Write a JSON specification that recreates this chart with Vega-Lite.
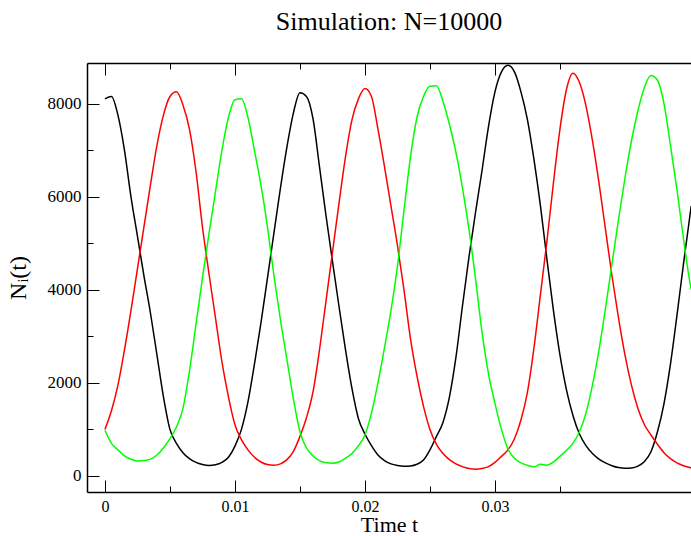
{
  "$schema": "https://vega.github.io/schema/vega-lite/v6.json",
  "width": 604,
  "height": 429,
  "autosize": "none",
  "padding": {"left": 87, "top": 63, "right": 0, "bottom": 44},
  "background": "white",
  "title": {"text": "Simulation: N=10000", "font": "Liberation Serif", "fontSize": 26, "fontWeight": "normal", "anchor": "middle", "baseline": "alphabetic", "offset": 7, "color": "black"},
  "config": {
    "view": {"stroke": null},
    "axis": {"labelFont": "Liberation Serif", "titleFont": "Liberation Serif", "labelColor": "black", "titleColor": "black", "labelFontSize": 17, "titleFontSize": 23, "titleFontWeight": "normal", "domainColor": "black", "tickColor": "black", "grid": false}
  },
  "data": {"values": [
    {"t": 0.0000, "black": 8100, "red": 1000, "green": 980},
    {"t": 0.0005, "black": 8150, "red": 1400, "green": 700},
    {"t": 0.0010, "black": 7750, "red": 1950, "green": 560},
    {"t": 0.0015, "black": 7000, "red": 2700, "green": 430},
    {"t": 0.0020, "black": 6000, "red": 3550, "green": 360},
    {"t": 0.0025, "black": 5150, "red": 4450, "green": 320},
    {"t": 0.0030, "black": 4300, "red": 5350, "green": 330},
    {"t": 0.0035, "black": 3500, "red": 6250, "green": 360},
    {"t": 0.0040, "black": 2600, "red": 7100, "green": 450},
    {"t": 0.0045, "black": 1700, "red": 7750, "green": 600},
    {"t": 0.0050, "black": 1000, "red": 8150, "green": 800},
    {"t": 0.0055, "black": 700, "red": 8250, "green": 1050},
    {"t": 0.0060, "black": 500, "red": 7970, "green": 1450},
    {"t": 0.0065, "black": 370, "red": 7450, "green": 2250},
    {"t": 0.0070, "black": 290, "red": 6550, "green": 3250},
    {"t": 0.0075, "black": 245, "red": 5350, "green": 4250},
    {"t": 0.0080, "black": 225, "red": 4350, "green": 5200},
    {"t": 0.0085, "black": 240, "red": 3400, "green": 6100},
    {"t": 0.0090, "black": 290, "red": 2450, "green": 7000},
    {"t": 0.0095, "black": 400, "red": 1700, "green": 7700},
    {"t": 0.0100, "black": 640, "red": 1100, "green": 8080},
    {"t": 0.0105, "black": 1000, "red": 780, "green": 8100},
    {"t": 0.0110, "black": 1590, "red": 560, "green": 7700},
    {"t": 0.0115, "black": 2400, "red": 400, "green": 6990},
    {"t": 0.0120, "black": 3290, "red": 300, "green": 6250},
    {"t": 0.0125, "black": 4250, "red": 245, "green": 5350},
    {"t": 0.0130, "black": 5220, "red": 230, "green": 4300},
    {"t": 0.0135, "black": 6185, "red": 260, "green": 3350},
    {"t": 0.0140, "black": 7070, "red": 350, "green": 2500},
    {"t": 0.0145, "black": 7800, "red": 530, "green": 1650},
    {"t": 0.0150, "black": 8230, "red": 850, "green": 950},
    {"t": 0.0155, "black": 8150, "red": 1250, "green": 600},
    {"t": 0.0160, "black": 7680, "red": 1800, "green": 430},
    {"t": 0.0165, "black": 6650, "red": 2700, "green": 330},
    {"t": 0.0170, "black": 5600, "red": 3750, "green": 285},
    {"t": 0.0175, "black": 4615, "red": 4800, "green": 275},
    {"t": 0.0180, "black": 3650, "red": 5850, "green": 300},
    {"t": 0.0185, "black": 2720, "red": 6850, "green": 380},
    {"t": 0.0190, "black": 1880, "red": 7650, "green": 480},
    {"t": 0.0195, "black": 1230, "red": 8100, "green": 650},
    {"t": 0.0200, "black": 900, "red": 8320, "green": 880},
    {"t": 0.0205, "black": 650, "red": 8150, "green": 1350},
    {"t": 0.0210, "black": 450, "red": 7450, "green": 2000},
    {"t": 0.0215, "black": 330, "red": 6650, "green": 2750},
    {"t": 0.0220, "black": 260, "red": 5800, "green": 3550},
    {"t": 0.0225, "black": 225, "red": 4950, "green": 4500},
    {"t": 0.0230, "black": 210, "red": 4000, "green": 5700},
    {"t": 0.0235, "black": 215, "red": 2950, "green": 6850},
    {"t": 0.0240, "black": 250, "red": 2150, "green": 7700},
    {"t": 0.0245, "black": 340, "red": 1500, "green": 8150},
    {"t": 0.0250, "black": 560, "red": 1000, "green": 8370},
    {"t": 0.0255, "black": 850, "red": 680, "green": 8380},
    {"t": 0.0260, "black": 1150, "red": 480, "green": 8050},
    {"t": 0.0265, "black": 1700, "red": 350, "green": 7550},
    {"t": 0.0270, "black": 2550, "red": 260, "green": 6950},
    {"t": 0.0275, "black": 3650, "red": 200, "green": 6190},
    {"t": 0.0280, "black": 4700, "red": 160, "green": 5300},
    {"t": 0.0285, "black": 5650, "red": 145, "green": 4250},
    {"t": 0.0290, "black": 6550, "red": 160, "green": 3100},
    {"t": 0.0295, "black": 7500, "red": 200, "green": 2200},
    {"t": 0.0300, "black": 8250, "red": 290, "green": 1560},
    {"t": 0.0305, "black": 8680, "red": 420, "green": 1000},
    {"t": 0.0310, "black": 8820, "red": 560, "green": 580},
    {"t": 0.0315, "black": 8680, "red": 800, "green": 380},
    {"t": 0.0320, "black": 8250, "red": 1200, "green": 280},
    {"t": 0.0325, "black": 7650, "red": 1800, "green": 230},
    {"t": 0.0330, "black": 6800, "red": 2750, "green": 195},
    {"t": 0.0335, "black": 5800, "red": 3900, "green": 250},
    {"t": 0.0340, "black": 4650, "red": 5050, "green": 230},
    {"t": 0.0345, "black": 3550, "red": 6300, "green": 300},
    {"t": 0.0350, "black": 2600, "red": 7450, "green": 420},
    {"t": 0.0355, "black": 1850, "red": 8300, "green": 550},
    {"t": 0.0360, "black": 1300, "red": 8650, "green": 700},
    {"t": 0.0365, "black": 900, "red": 8450, "green": 950},
    {"t": 0.0370, "black": 650, "red": 7950, "green": 1350},
    {"t": 0.0375, "black": 480, "red": 7200, "green": 1950},
    {"t": 0.0380, "black": 360, "red": 6300, "green": 2700},
    {"t": 0.0385, "black": 280, "red": 5300, "green": 3600},
    {"t": 0.0390, "black": 220, "red": 4300, "green": 4550},
    {"t": 0.0395, "black": 180, "red": 3400, "green": 5500},
    {"t": 0.0400, "black": 165, "red": 2600, "green": 6400},
    {"t": 0.0405, "black": 170, "red": 1950, "green": 7200},
    {"t": 0.0410, "black": 210, "red": 1450, "green": 7850},
    {"t": 0.0415, "black": 310, "red": 1100, "green": 8350},
    {"t": 0.0420, "black": 520, "red": 880, "green": 8600},
    {"t": 0.0425, "black": 950, "red": 680, "green": 8500},
    {"t": 0.0430, "black": 1550, "red": 500, "green": 8000},
    {"t": 0.0435, "black": 2400, "red": 370, "green": 7100},
    {"t": 0.0440, "black": 3450, "red": 280, "green": 6150},
    {"t": 0.0445, "black": 4550, "red": 220, "green": 5100},
    {"t": 0.0450, "black": 5600, "red": 180, "green": 4150},
    {"t": 0.0451, "black": 5800, "red": 170, "green": 4000}
  ]},
  "transform": [{"fold": ["black", "red", "green"], "as": ["series", "N"]}],
  "resolve": {"axis": {"x": "independent", "y": "independent"}},
  "layer": [
    {
      "mark": {"type": "line", "strokeWidth": 1.5, "clip": true, "interpolate": "monotone"},
      "encoding": {
        "x": {"field": "t", "type": "quantitative", "scale": {"domain": [-0.00138, 0.04508], "nice": false, "zero": false},
              "axis": {"orient": "bottom", "values": [0, 0.01, 0.02, 0.03], "format": ".2~f", "tickSize": -12, "tickWidth": 1, "labelPadding": 18, "labelFont": "Liberation Serif", "labelFontSize": 16, "domainWidth": 1.5, "title": "Time t", "titleFont": "Liberation Serif", "titleFontSize": 22, "titlePadding": 0, "labelFlush": false, "labelOverlap": false}},
        "y": {"field": "N", "type": "quantitative", "scale": {"domain": [-345, 8870], "nice": false, "zero": false},
              "axis": {"orient": "left", "values": [0, 2000, 4000, 6000, 8000], "format": "d", "tickSize": -12, "tickWidth": 1, "labelPadding": 18, "labelFont": "Liberation Serif", "labelFontSize": 17, "domainWidth": 1.5, "title": "Nᵢ(t)", "titleFont": "Liberation Serif", "titleFontSize": 24, "titlePadding": 17, "labelFlush": false, "labelOverlap": false}},
        "color": {"field": "series", "type": "nominal", "scale": {"domain": ["black", "red", "green"], "range": ["#000000", "#ff0000", "#00ff00"]}, "legend": null}
      }
    },
    {
      "transform": [{"filter": "datum.t == 0"}],
      "mark": {"type": "point", "opacity": 0},
      "encoding": {
        "x": {"field": "t", "type": "quantitative", "scale": {"domain": [-0.00138, 0.04508], "nice": false, "zero": false},
              "axis": {"orient": "bottom", "values": [0.005, 0.015, 0.025, 0.035], "tickSize": -6, "tickWidth": 1, "labels": false, "domain": false, "title": null}},
        "y": {"field": "N", "type": "quantitative", "scale": {"domain": [-345, 8870], "nice": false, "zero": false},
              "axis": {"orient": "left", "values": [1000, 3000, 5000, 7000], "tickSize": -6, "tickWidth": 1, "labels": false, "domain": false, "title": null}}
      }
    },
    {
      "transform": [{"filter": "datum.t == 0"}],
      "mark": {"type": "point", "opacity": 0},
      "encoding": {
        "x": {"field": "t", "type": "quantitative", "scale": {"domain": [-0.00138, 0.04508], "nice": false, "zero": false},
              "axis": {"orient": "top", "values": [0, 0.01, 0.02, 0.03], "tickSize": -12, "tickWidth": 1, "labels": false, "domainWidth": 1.5, "title": null}},
        "y": {"field": "N", "type": "quantitative", "scale": {"domain": [-345, 8870], "nice": false, "zero": false}, "axis": null}
      }
    },
    {
      "transform": [{"filter": "datum.t == 0"}],
      "mark": {"type": "point", "opacity": 0},
      "encoding": {
        "x": {"field": "t", "type": "quantitative", "scale": {"domain": [-0.00138, 0.04508], "nice": false, "zero": false},
              "axis": {"orient": "top", "values": [0.005, 0.015, 0.025, 0.035], "tickSize": -6, "tickWidth": 1, "labels": false, "domain": false, "title": null}},
        "y": {"field": "N", "type": "quantitative", "scale": {"domain": [-345, 8870], "nice": false, "zero": false}, "axis": null}
      }
    }
  ]
}
